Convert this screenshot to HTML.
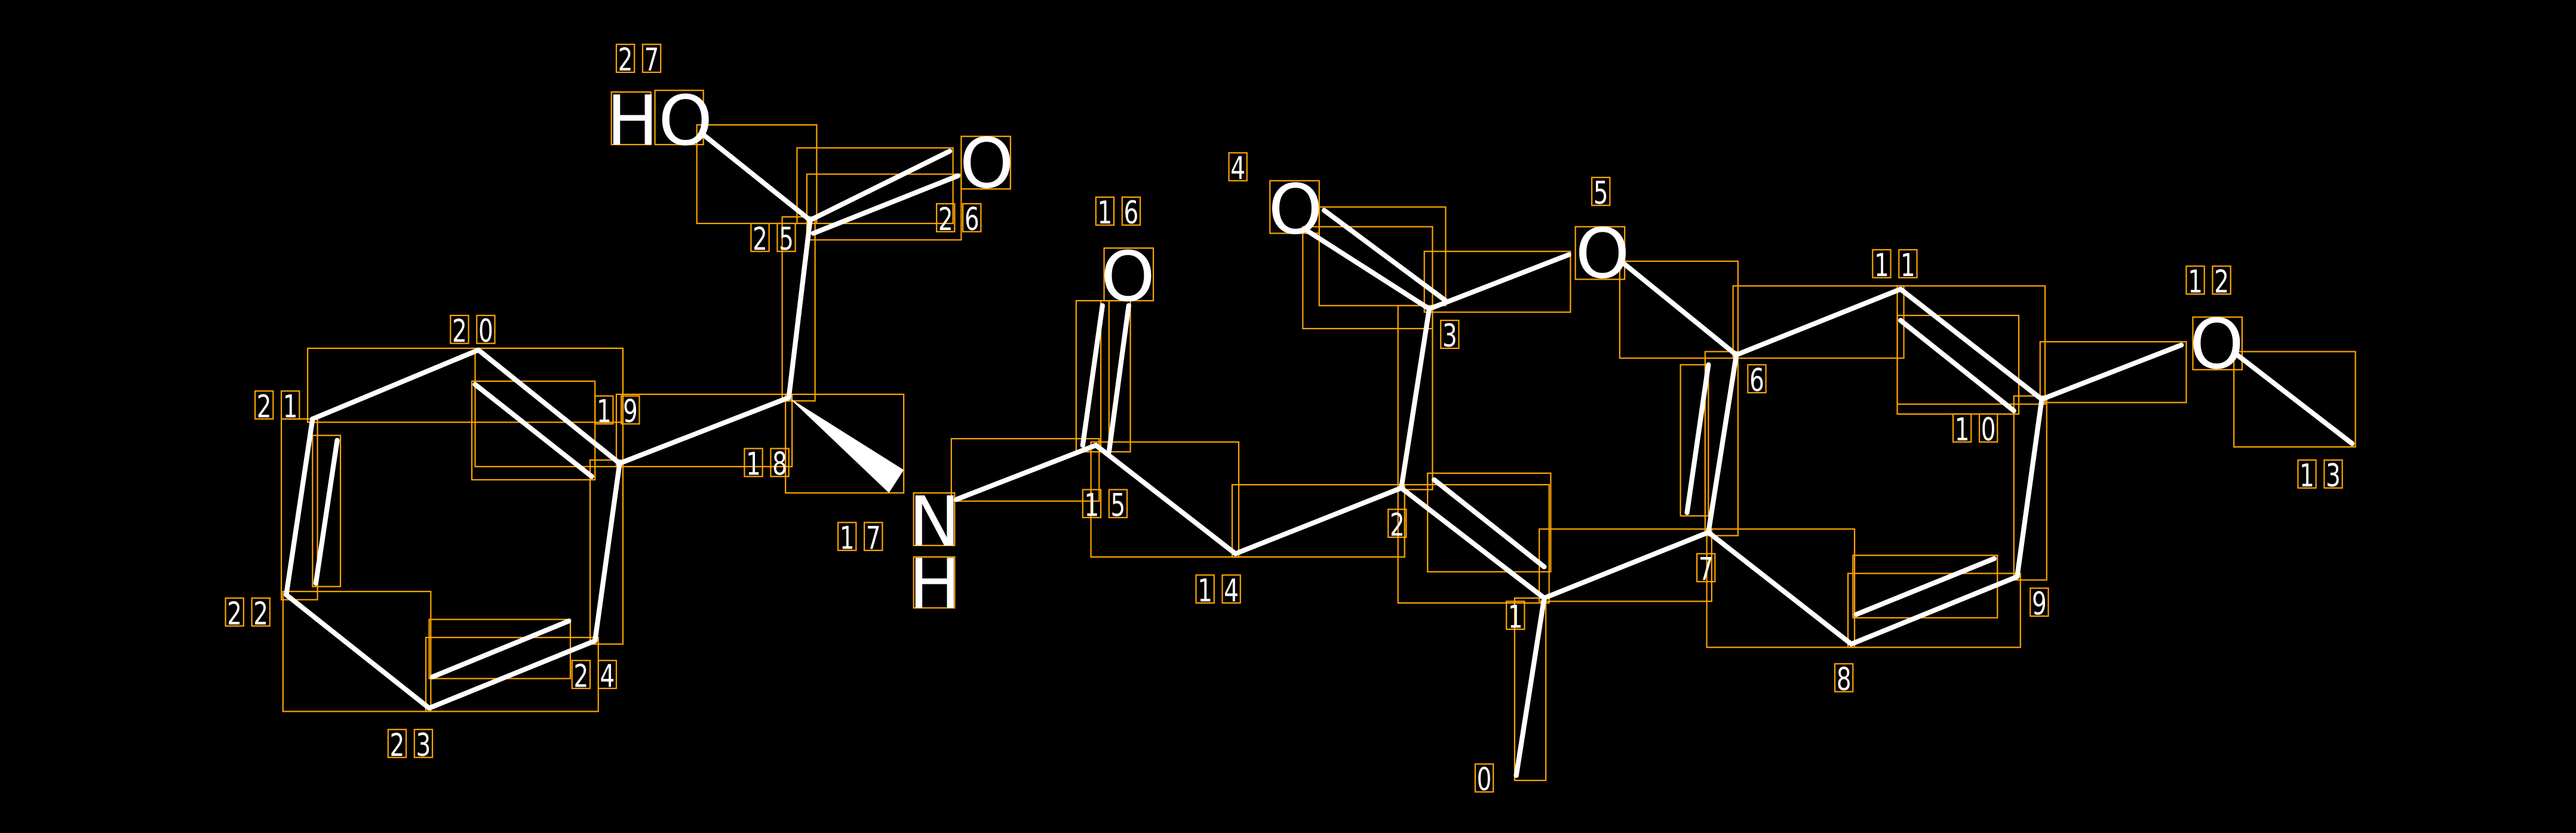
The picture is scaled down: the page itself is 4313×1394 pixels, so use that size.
<!DOCTYPE html>
<html><head><meta charset="utf-8"><style>
html,body{margin:0;padding:0;background:#000;}
svg{display:block;}
text{font-family:"DejaVu Sans","Liberation Sans",sans-serif;fill:#fff;}
.b{stroke:#fff;stroke-width:3;stroke-linecap:round;fill:none;}
.r{stroke:#ffa500;stroke-width:0.8;fill:none;}
.n{font-size:19px;}
.a{font-size:42px;}
</style></head><body>
<svg id="s" width="4313" height="1394" viewBox="0 0 1568 507" xmlns="http://www.w3.org/2000/svg">
<rect width="1568" height="507" fill="#000"/>
<g class="r">
<rect x="922" y="364" width="19" height="111"/>
<rect x="851" y="295" width="92" height="72"/>
<rect x="869" y="288" width="75" height="60"/>
<rect x="851" y="186" width="21" height="112"/>
<rect x="793" y="138" width="79" height="62"/>
<rect x="803" y="126" width="77" height="60"/>
<rect x="867" y="153" width="89" height="37"/>
<rect x="986" y="159" width="72" height="59"/>
<rect x="1038" y="214" width="20" height="112"/>
<rect x="1023" y="222" width="17" height="92"/>
<rect x="937" y="322" width="105" height="44"/>
<rect x="1039" y="322" width="90" height="72"/>
<rect x="1125" y="349" width="105" height="45"/>
<rect x="1128" y="338" width="88" height="38"/>
<rect x="1226" y="241" width="20" height="112"/>
<rect x="1155" y="174" width="90" height="72"/>
<rect x="1155" y="192" width="74" height="60"/>
<rect x="1055" y="174" width="104" height="44"/>
<rect x="1242" y="208" width="89" height="37"/>
<rect x="1360" y="214" width="74" height="58"/>
<rect x="750" y="295" width="105" height="44"/>
<rect x="664" y="269" width="90" height="70"/>
<rect x="655" y="183" width="20" height="92"/>
<rect x="670" y="183" width="18" height="92"/>
<rect x="579" y="267" width="90" height="38"/>
<rect x="478" y="240" width="72" height="60"/>
<rect x="375" y="240" width="107" height="44"/>
<rect x="476" y="132" width="20" height="112"/>
<rect x="485" y="90" width="95" height="46"/>
<rect x="491" y="106" width="94" height="40"/>
<rect x="424" y="76" width="73" height="60"/>
<rect x="187" y="212" width="192" height="45"/>
<rect x="289" y="212" width="90" height="72"/>
<rect x="287" y="232" width="75" height="60"/>
<rect x="359" y="280" width="20" height="112"/>
<rect x="171" y="255" width="22" height="110"/>
<rect x="190" y="265" width="17" height="92"/>
<rect x="172" y="360" width="90" height="73"/>
<rect x="259" y="388" width="105" height="45"/>
<rect x="261" y="377" width="86" height="36"/>
<rect x="959" y="138" width="30" height="32"/>
<rect x="773" y="110" width="30" height="32"/>
<rect x="672" y="151" width="30" height="32"/>
<rect x="1335" y="193" width="30" height="32"/>
<rect x="398.5" y="55" width="29.5" height="33"/>
<rect x="372" y="56" width="24" height="32"/>
<rect x="585" y="83" width="30" height="32"/>
<rect x="556" y="300" width="25" height="32"/>
<rect x="556" y="339" width="25" height="31"/>
</g>
<g class="b">
<line x1="923" y1="472" x2="940" y2="364"/>
<line x1="940" y1="364" x2="853" y2="297"/>
<line x1="873" y1="292" x2="940" y2="345"/>
<line x1="853" y1="297" x2="870" y2="188"/>
<line x1="870" y1="188" x2="795" y2="140"/>
<line x1="880" y1="183" x2="806" y2="128"/>
<line x1="870" y1="188" x2="955" y2="155"/>
<line x1="988" y1="160" x2="1057" y2="216"/>
<line x1="1057" y1="216" x2="1040" y2="324"/>
<line x1="1040" y1="222" x2="1027" y2="312"/>
<line x1="1040" y1="324" x2="940" y2="364"/>
<line x1="1040" y1="324" x2="1127" y2="392"/>
<line x1="1127" y1="392" x2="1228" y2="351"/>
<line x1="1130" y1="374" x2="1214" y2="340"/>
<line x1="1228" y1="351" x2="1243" y2="243"/>
<line x1="1243" y1="243" x2="1157" y2="176"/>
<line x1="1226" y1="250" x2="1157" y2="195"/>
<line x1="1157" y1="176" x2="1057" y2="216"/>
<line x1="1243" y1="243" x2="1328" y2="210"/>
<line x1="1362" y1="216" x2="1432" y2="270"/>
<line x1="853" y1="297" x2="752" y2="337"/>
<line x1="752" y1="337" x2="667" y2="271"/>
<line x1="659" y1="271" x2="671" y2="186"/>
<line x1="675" y1="275" x2="687" y2="186"/>
<line x1="667" y1="271" x2="582" y2="304"/>
<line x1="480" y1="242" x2="377" y2="282"/>
<line x1="377" y1="282" x2="291" y2="213"/>
<line x1="360" y1="290" x2="289" y2="234"/>
<line x1="291" y1="213" x2="190" y2="255"/>
<line x1="190" y1="255" x2="174" y2="362"/>
<line x1="205" y1="268" x2="192" y2="355"/>
<line x1="174" y1="362" x2="261" y2="431"/>
<line x1="261" y1="431" x2="362" y2="390"/>
<line x1="263" y1="412" x2="346" y2="378"/>
<line x1="362" y1="390" x2="377" y2="282"/>
<line x1="480" y1="242" x2="493" y2="134"/>
<line x1="493" y1="134" x2="578" y2="92"/>
<line x1="495" y1="142" x2="583" y2="107"/>
<line x1="493" y1="134" x2="428" y2="82"/>
</g>
<polygon points="480,242 541,300 550,286" fill="#fff"/>
<text class="a" x="959" y="169">O</text>
<text class="a" x="772" y="142">O</text>
<text class="a" x="670" y="183">O</text>
<text class="a" x="1333" y="224">O</text>
<text class="a" x="584" y="114">O</text>
<text class="a" x="369" y="88">HO</text>
<text class="a" x="553" y="332">N</text>
<text class="a" x="553" y="370">H</text>
<g id="nums" class="n"></g>
</svg>
<script>
var L=[["0",898,481],["1",917,382],["2",845,326],["3",877,211],["4",748,109],["5",969,124],["6",1064,238],["7",1033,353],["8",1117,420],["9",1236,374],["10",1189,268],["11",1140,168],["12",1331,178],["13",1399,296],["14",728,366],["15",659,314],["16",667,136],["17",510,334],["18",453,289],["19",362,257],["20",274,208],["21",155,254],["22",137,380],["23",236,460],["24",348,418],["25",457,152],["26",570,140],["27",375,43]];
var g=document.getElementById("nums"),ns="http://www.w3.org/2000/svg";
L.forEach(function(l){for(var i=0;i<l[0].length;i++){var x=l[1]+i*16,y=l[2];
var r=document.createElementNS(ns,"rect");r.setAttribute("x",x);r.setAttribute("y",y-16);r.setAttribute("width",11);r.setAttribute("height",17);r.setAttribute("class","r");g.appendChild(r);
var t=document.createElementNS(ns,"text");t.setAttribute("x",x+1);t.setAttribute("y",y);t.setAttribute("textLength",9);t.setAttribute("lengthAdjust","spacingAndGlyphs");t.textContent=l[0][i];g.appendChild(t);}});
</script>
</body></html>
